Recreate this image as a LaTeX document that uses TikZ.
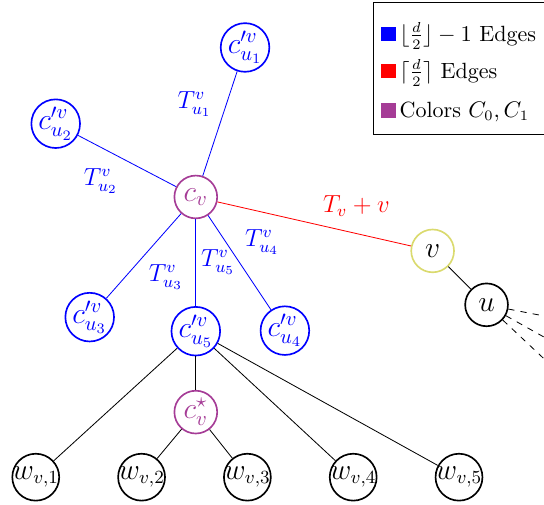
\documentclass[tikz,border=0pt]{standalone}
\usepackage{tikz}
\usetikzlibrary{shapes,calc,positioning}

\definecolor{purp}{RGB}{165,60,150}
\definecolor{ylw}{RGB}{218,218,110}

\tikzset{
  bnode/.style={circle, draw=blue, thick, text=blue, minimum size=0.83cm, inner sep=0pt, font=\Large},
  pnode/.style={circle, draw=purp, thick, text=purp, minimum size=0.73cm, inner sep=0pt, font=\Large},
  knode/.style={circle, draw, thick, minimum size=0.73cm, inner sep=0pt, font=\Large},
  wnode/.style={circle, draw, thick, minimum size=0.80cm, inner sep=-2.5pt,
                font=\fontsize{13.5}{16}\selectfont},
}

\begin{document}
\begin{tikzpicture}[text=black,node font=\large]

  \useasboundingbox (-3.34,-5.24) rectangle (5.94,3.36);

  \node (cv) at (0,0) [pnode] {$c_v$};
  \node (cu1) at ($(cv)+(0.84cm,2.55cm)$) [bnode] {$c'^{v}_{u_1}$};
  \node (cu2) at ($(cv)+(-2.39cm,1.25cm)$) [bnode] {$c'^{v}_{u_2}$};
  \node (cu3) at ($(cv)+(-1.81cm,-2.05cm)$) [bnode] {$c'^{v}_{u_3}$};
  \node (cu5) at ($(cv)+(0cm,-2.29cm)$) [bnode] {$c'^{v}_{u_5}$};
  \node (cu4) at ($(cv)+(1.52cm,-2.28cm)$) [bnode] {$c'^{v}_{u_4}$};
  \node (v) at ($(cv)+(4.04cm,-0.92cm)$) [knode, draw=ylw] {$v$};
  \node (u) at ($(v)+(0.92cm,-0.92cm)$) [knode] {$u$};
  \node (cs) at ($(cu5)+(0cm,-1.38cm)$) [pnode] {$c^{\star}_{v}$};

  \node (w1) at ($(cv)+(-2.73cm,-4.78cm)$) [wnode] {$w_{v,1}$};
  \node (w2) at ($(w1)+(1.805cm,0)$) [wnode] {$w_{v,2}$};
  \node (w3) at ($(w2)+(1.805cm,0)$) [wnode] {$w_{v,3}$};
  \node (w4) at ($(w3)+(1.805cm,0)$) [wnode] {$w_{v,4}$};
  \node (w5) at ($(w4)+(1.805cm,0)$) [wnode] {$w_{v,5}$};

  \coordinate (d1) at ($(u)+(0.98cm,-0.19cm)$);
  \coordinate (d2) at ($(u)+(0.98cm,-0.55cm)$);
  \coordinate (d3) at ($(u)+(0.98cm,-0.92cm)$);

  \draw[blue] (cv) -- (cu1);
  \draw[blue] (cv) -- (cu2);
  \draw[blue] (cv) -- (cu3);
  \draw[blue] (cv) -- (cu5);
  \draw[blue] (cv) -- (cu4);
  \draw[red] (cv) -- (v);
  \draw (v) -- (u);

  \draw (cu5) -- (cs);
  \draw (cu5) -- (w1);
  \draw (cu5) -- (w4);
  \draw (cu5) -- (w5);
  \draw (cs) -- (w2);
  \draw (cs) -- (w3);

  \draw[dashed] (u) -- (d1);
  \draw[dashed] (u) -- (d2);
  \draw[dashed] (u) -- (d3);

  \node (lu1) at ($(cv)+(-0.02cm,1.59cm)$) [text=blue] {$T^{v}_{u_1}$};
  \node (lu2) at ($(cv)+(-1.62cm,0.27cm)$) [text=blue] {$T^{v}_{u_2}$};
  \node (lu3) at ($(cv)+(-0.51cm,-1.37cm)$) [text=blue] {$T^{v}_{u_3}$};
  \node (lu5) at ($(cv)+(0.38cm,-1.11cm)$) [text=blue] {$T^{v}_{u_5}$};
  \node (lu4) at ($(cv)+(1.13cm,-0.77cm)$) [text=blue] {$T^{v}_{u_4}$};
  \node (ltv) at ($(cv)+(2.74cm,-0.15cm)$) [text=red] {$T_v+v$};

  \node (leg) at ($(cv)+(3.02cm,3.33cm)$) [draw, anchor=north west,
        inner xsep=4pt, inner ysep=6pt, font=\fontsize{10.7}{13}\selectfont, align=left]
        {\rule{0pt}{13pt}\textcolor{blue}{\rule{7pt}{7pt}}\,$\lfloor\frac{d}{2}\rfloor-1$ Edges\hspace{3pt}\\[5pt]
         \textcolor{red}{\rule{7pt}{7pt}}\,$\lceil\frac{d}{2}\rceil$ Edges\\[6pt]
         \textcolor{purp}{\rule{7pt}{7pt}}\,Colors $C_0,C_1$};

\end{tikzpicture}
\end{document}
